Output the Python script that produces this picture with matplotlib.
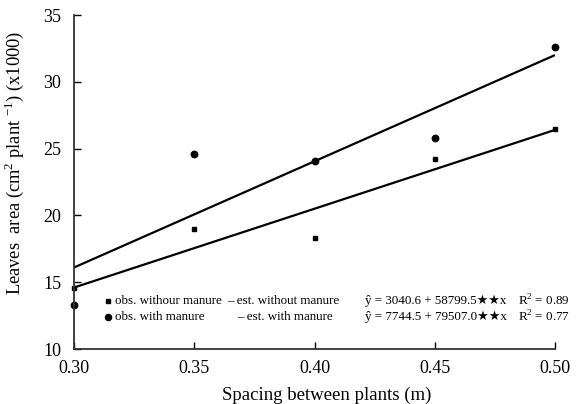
import matplotlib
matplotlib.use("Agg")
import matplotlib.pyplot as plt

# ── data ──────────────────────────────────────────────────────────────────────
spacing = [0.30, 0.35, 0.40, 0.45, 0.50]
obs_without = [14.6, 19.0, 18.3, 24.2, 26.5]
obs_with = [13.3, 24.6, 24.1, 25.8, 32.6]

line_x = [0.30, 0.50]
est_without = [14.6, 26.4]
est_with = [16.1, 32.0]

x_ticks = [0.30, 0.35, 0.40, 0.45, 0.50]
x_ticklabels = ["0.30", "0.35", "0.40", "0.45", "0.50"]
y_ticks = [10, 15, 20, 25, 30, 35]

eq_without = "ŷ = 3040.6 + 58799.5★★x"
eq_with = "ŷ = 7744.5 + 79507.0★★x"
r2_without = "R$^2$ = 0.89"
r2_with = "R$^2$ = 0.77"

SERIF = ["Liberation Serif", "DejaVu Sans"]
plt.rcParams["font.family"] = SERIF
plt.rcParams["mathtext.fontset"] = "custom"
plt.rcParams["mathtext.rm"] = "Liberation Serif"

fig = plt.figure(figsize=(5.76, 4.04), dpi=100)
ax = fig.add_axes([74 / 576, 1 - 349 / 404, 481 / 576, 334 / 404])

ax.plot(line_x, est_without, color="black", lw=1.6, solid_capstyle="butt")
ax.plot(line_x, est_with, color="black", lw=1.6, solid_capstyle="butt")
ax.plot(spacing, obs_without, "s", color="black", ms=3.4, clip_on=False)
ax.plot(spacing, obs_with, "o", color="black", ms=4.6, clip_on=False)

ax.set_xlim(0.30, 0.50)
ax.set_ylim(10, 35)
ax.set_xticks(x_ticks)
ax.set_xticklabels(x_ticklabels)
ax.set_yticks(y_ticks)
ax.tick_params(direction="in", length=5, width=1, labelsize=13)
ax.tick_params(axis="y", pad=9)
ax.tick_params(axis="x", pad=8)
for s in ("top", "right"):
    ax.spines[s].set_visible(False)
for s in ("left", "bottom"):
    ax.spines[s].set_linewidth(1.3)
    ax.spines[s].set_color("#333333")

ax.set_xlabel("Spacing between plants (m)", fontsize=13.5)
ax.set_ylabel("Leaves  area (cm$^2$ plant $^{-1}$) (x1000)", fontsize=13.3)
ax.xaxis.set_label_coords(0.526, -0.112)
ax.yaxis.set_label_coords(-0.100, 0.557)

# legend block
fs = 9.4
tr = ax.transAxes
rows = [(0.144, "s", 3.2, "obs. withour manure", 0.318, "– est. without manure",
         eq_without, r2_without),
        (0.096, "o", 4.4, "obs. with manure", 0.339, "– est. with manure",
         eq_with, r2_with)]
for y, mk, ms, obs, dx, est, eq, r2 in rows:
    ax.plot([0.071], [y], mk, color="black", ms=ms, transform=tr, clip_on=False)
    ax.text(0.086, y, obs, transform=tr, fontsize=fs, va="center")
    ax.text(dx, y, est, transform=tr, fontsize=fs, va="center")
    ax.text(0.605, y, eq, transform=tr, fontsize=fs, va="center", family=SERIF)
    ax.text(0.923, y, r2, transform=tr, fontsize=fs, va="center")

fig.savefig("out.png", dpi=100)
